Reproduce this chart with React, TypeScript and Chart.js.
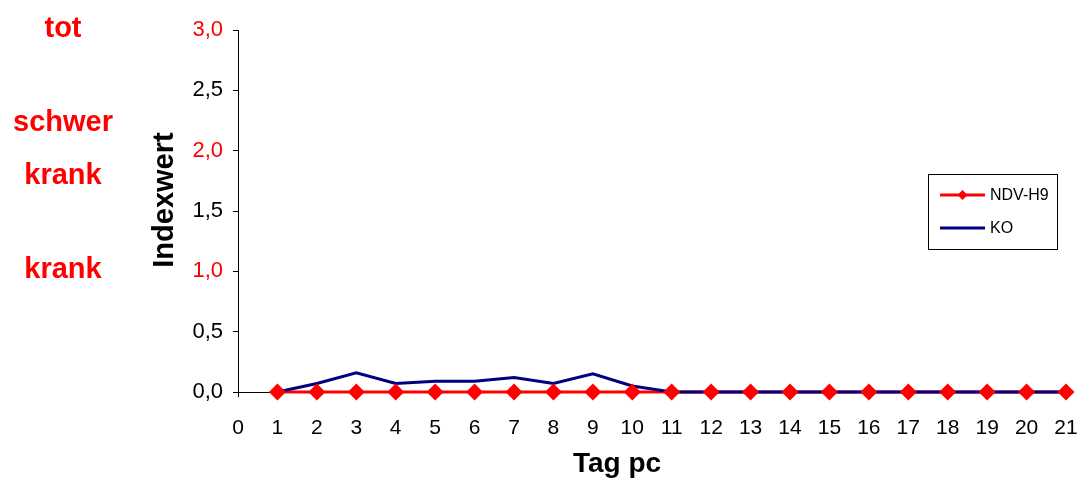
import React, { useEffect, useRef } from "react";
import { Chart, registerables } from "chart.js";

Chart.register(...registerables);

// Days post challenge
const days = [1, 2, 3, 4, 5, 6, 7, 8, 9, 10, 11, 12, 13, 14, 15, 16, 17, 18, 19, 20, 21];
// Mean clinical index per group
const ndvH9 = [0, 0, 0, 0, 0, 0, 0, 0, 0, 0, 0, 0, 0, 0, 0, 0, 0, 0, 0, 0, 0];
const ko = [0, 0.07, 0.16, 0.07, 0.09, 0.09, 0.12, 0.07, 0.15, 0.05, 0, 0, 0, 0, 0, 0, 0, 0, 0, 0, 0];

const seriesNames = ["NDV-H9", "KO"];
const yTickValues = [0, 0.5, 1, 1.5, 2, 2.5, 3];
const statusValues = [3, 2, 1];
const statusLabels = [["tot"], ["schwer", "krank"], ["krank"]];
const xTitle = "Tag pc";
const yTitle = "Indexwert";

const RED = "#FF0000";
const NAVY = "#000080";
const FONT = "'Liberation Sans', Arial, sans-serif";

const toPoints = (vals: number[]) => vals.map((v, i) => ({ x: days[i], y: v }));

// Severity labels left of the value axis, plus both axis titles
const textPlugin = {
  id: "sideTexts",
  afterDraw(chart: any) {
    const { ctx } = chart;
    const y = chart.scales.y;
    ctx.save();
    ctx.fillStyle = RED;
    ctx.font = `bold 29px ${FONT}`;
    ctx.textAlign = "center";
    ctx.textBaseline = "alphabetic";
    statusValues.forEach((v, k) => {
      const lines = statusLabels[k];
      const base = y.getPixelForValue(v) + 7;
      lines.forEach((t, i) => {
        ctx.fillText(t, 63, base + (i - (lines.length - 1) / 2) * 53);
      });
    });

    ctx.fillStyle = "#000";
    ctx.font = `bold 28px ${FONT}`;
    ctx.textAlign = "center";
    ctx.fillText(xTitle, 617, 472);

    ctx.translate(173, 200);
    ctx.rotate(-Math.PI / 2);
    ctx.font = `bold 29px ${FONT}`;
    ctx.fillText(yTitle, 0, 0);
    ctx.restore();
  },
};

// Boxed legend with line + marker samples
const legendPlugin = {
  id: "boxLegend",
  afterDraw(chart: any) {
    const { ctx } = chart;
    const w = 129;
    const h = 75;
    const x0 = 928;
    const y0 = 174;
    ctx.save();
    ctx.fillStyle = "#fff";
    ctx.fillRect(x0, y0, w, h);
    ctx.strokeStyle = "#000";
    ctx.lineWidth = 1;
    ctx.strokeRect(x0 + 0.5, y0 + 0.5, w, h);
    const rows = [
      { name: seriesNames[0], color: RED, marker: true, y: y0 + 21 },
      { name: seriesNames[1], color: NAVY, marker: false, y: y0 + 54 },
    ];
    rows.forEach((r) => {
      ctx.strokeStyle = r.color;
      ctx.lineWidth = 3;
      ctx.beginPath();
      ctx.moveTo(x0 + 12, r.y);
      ctx.lineTo(x0 + 57, r.y);
      ctx.stroke();
      if (r.marker) {
        const cx = x0 + 34.5;
        ctx.fillStyle = r.color;
        ctx.beginPath();
        ctx.moveTo(cx, r.y - 5);
        ctx.lineTo(cx + 5, r.y);
        ctx.lineTo(cx, r.y + 5);
        ctx.lineTo(cx - 5, r.y);
        ctx.closePath();
        ctx.fill();
      }
      ctx.fillStyle = "#000";
      ctx.font = `16px ${FONT}`;
      ctx.textAlign = "left";
      ctx.textBaseline = "middle";
      ctx.fillText(r.name, x0 + 62, r.y + 1);
    });
    ctx.restore();
  },
};

export default function App() {
  const canvasRef = useRef<HTMLCanvasElement | null>(null);

  useEffect(() => {
    if (!canvasRef.current) return;
    const chart = new Chart(canvasRef.current, {
      type: "line",
      data: {
        datasets: [
          {
            // NDV-H9 markers, drawn on top
            label: seriesNames[0],
            data: toPoints(ndvH9),
            showLine: false,
            clip: false,
            pointStyle: "rectRot",
            pointRadius: 8.5,
            pointBackgroundColor: RED,
            pointBorderColor: RED,
            pointBorderWidth: 0,
          },
          {
            label: seriesNames[1],
            data: toPoints(ko),
            clip: false,
            borderColor: NAVY,
            borderWidth: 3,
            pointRadius: 0,
            tension: 0,
          },
          {
            // NDV-H9 line, drawn underneath
            label: seriesNames[0],
            data: toPoints(ndvH9),
            clip: false,
            borderColor: RED,
            borderWidth: 3,
            pointRadius: 0,
            tension: 0,
          },
        ],
      },
      options: {
        animation: false,
        responsive: false,
        maintainAspectRatio: false,
        layout: { padding: { left: 146, right: 17, top: 30, bottom: 0 } },
        plugins: { legend: { display: false }, tooltip: { enabled: false } },
        scales: {
          x: {
            type: "linear",
            min: 0,
            max: 21,
            afterFit: (s: any) => {
              s.height = 88;
              s.paddingLeft = 0;
              s.paddingRight = 0;
            },
            border: { color: "#000", width: 1 },
            grid: {
              drawOnChartArea: false,
              tickLength: 5,
              color: (c: any) => (c.tick && c.tick.value === 0 ? "#000" : "rgba(0,0,0,0)"),
            },
            ticks: {
              stepSize: 1,
              autoSkip: false,
              maxRotation: 0,
              padding: 19,
              color: "#000",
              font: { family: FONT, size: 21 },
            },
          },
          y: {
            min: 0,
            max: 3,
            afterFit: (s: any) => {
              s.width = 238 - 146;
              s.paddingTop = 0;
              s.paddingBottom = 0;
            },
            afterBuildTicks: (s: any) => {
              s.ticks = yTickValues.map((v) => ({ value: v }));
            },
            border: { color: "#000", width: 1 },
            grid: { drawOnChartArea: false, tickLength: 5, color: "#000" },
            ticks: {
              padding: 10,
              color: (c: any) => (statusValues.includes(c.tick.value) ? RED : "#000"),
              font: { family: FONT, size: 22 },
              callback: (v: any) => Number(v).toFixed(1).replace(".", ","),
            },
          },
        },
      },
      plugins: [textPlugin, legendPlugin],
    });
    return () => chart.destroy();
  }, []);

  return (
    <div style={{ position: "fixed", left: 0, top: 0, width: 1083, height: 480, background: "#fff" }}>
      <canvas ref={canvasRef} width={1083} height={480} style={{ display: "block" }} />
    </div>
  );
}
